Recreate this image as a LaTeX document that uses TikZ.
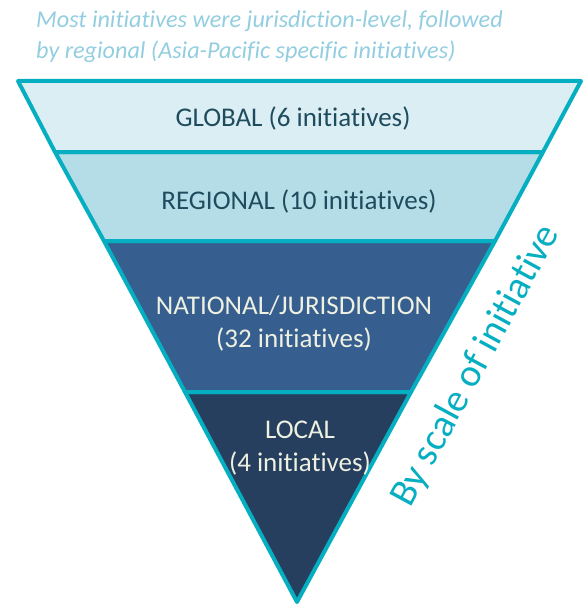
\documentclass[tikz,border=0pt]{standalone}
\usepackage{fontspec}
\setmainfont{Carlito}[Ligatures={NoCommon}]
\definecolor{teal1}{HTML}{05AEC1}
\definecolor{band1}{HTML}{DBEEF4}
\definecolor{band2}{HTML}{B5DDE7}
\definecolor{band3}{HTML}{365E8E}
\definecolor{band4}{HTML}{263F5F}
\definecolor{darktxt}{HTML}{1E4C5E}
\definecolor{lighttxt}{HTML}{EEF0E2}
\definecolor{titletxt}{HTML}{93CEE0}
\tikzset{
  band/.style={draw=teal1, line width=4pt, line join=round},
  lbl/.style={font=\fontsize{27}{33}\selectfont, align=center, inner sep=0pt},
}
\begin{document}
\begin{tikzpicture}[x=1pt,y=-1pt]
\useasboundingbox (0,0) rectangle (587,607);
% bands
\path[band, fill=band4] (185,392) -- (411,392) -- (297,602) -- cycle;
\path[band, fill=band3] (104,241) -- (495,241) -- (411,392) -- (185,392) -- cycle;
\path[band, fill=band2] (55,152) -- (543,152) -- (495,241) -- (104,241) -- cycle;
\path[band, fill=band1] (18,81) -- (581,81) -- (543,152) -- (55,152) -- cycle;
% labels
\node[lbl, text=darktxt] (global) at (293,118) {GLOBAL (6 initiatives)};
\node[lbl, text=darktxt] (regional) at (299,201) {REGIONAL (10 initiatives)};
\node[lbl, text=lighttxt] (national) at (294,323) {NATIONAL/JURISDICTION\\(32 initiatives)};
\node[lbl, text=lighttxt] (local) at (300,448) {LOCAL\\(4 initiatives)};
% title
\node[anchor=north west, align=left, inner sep=0pt, text=titletxt,
      font=\fontsize{24.2}{31}\selectfont\itshape] (title) at (36,10)
  {Most initiatives were jurisdiction-level, followed\\by regional (Asia-Pacific specific initiatives)};
% side label
\node[rotate=61.5, text=teal1, inner sep=0pt, font=\fontsize{39}{42}\selectfont] (scale) at (476,366) {By scale of initiative};
\end{tikzpicture}
\end{document}
